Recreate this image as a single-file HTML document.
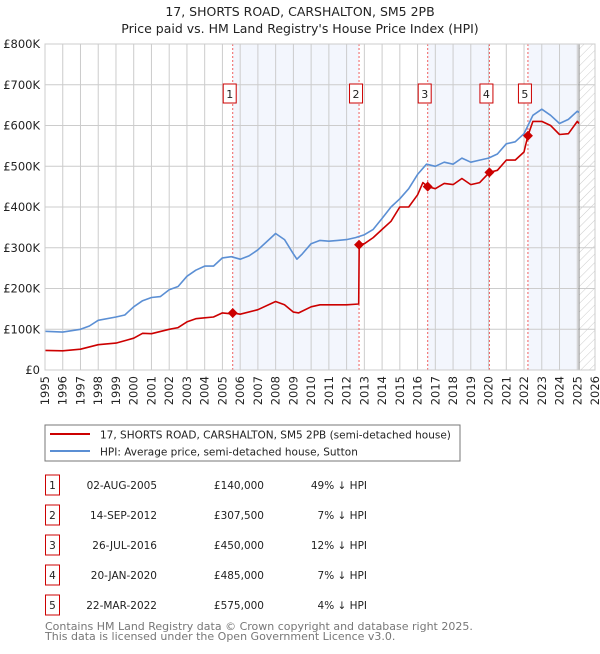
<!DOCTYPE html>
<html><head><meta charset="utf-8"><style>
body{margin:0;background:#fff;font-family:"DejaVu Sans","Liberation Sans",sans-serif;}
svg text{font-family:"DejaVu Sans","Liberation Sans",sans-serif;}
</style></head><body>
<svg id="c" width="600" height="650" xmlns="http://www.w3.org/2000/svg">
<defs><pattern id="hatch" patternUnits="userSpaceOnUse" width="6" height="6" patternTransform="rotate(45)"><line x1="0" y1="0" x2="0" y2="6" stroke="#ccc" stroke-width="1"/></pattern></defs>
<text x="300" y="16" text-anchor="middle" font-size="12.5" fill="#222">17, SHORTS ROAD, CARSHALTON, SM5 2PB</text>
<text x="300" y="33" text-anchor="middle" font-size="12.5" fill="#222">Price paid vs. HM Land Registry's House Price Index (HPI)</text>
<g id="plot"></g>
<rect x="45" y="425" width="415" height="36" fill="#fff" stroke="#777"/>
<line x1="50" y1="434" x2="90" y2="434" stroke="#cc0000" stroke-width="2"/>
<text x="100" y="438.5" font-size="10.5" fill="#222">17, SHORTS ROAD, CARSHALTON, SM5 2PB (semi-detached house)</text>
<line x1="50" y1="451" x2="90" y2="451" stroke="#5b8fd4" stroke-width="2"/>
<text x="100" y="455.5" font-size="10.5" fill="#222">HPI: Average price, semi-detached house, Sutton</text>
<g id="table"></g>
<text x="45" y="630" font-size="11" fill="#777">Contains HM Land Registry data © Crown copyright and database right 2025.</text>
<text x="45" y="640" font-size="11" fill="#777">This data is licensed under the Open Government Licence v3.0.</text>
</svg>
<script>
const hpiYears=[1995,1996,1997,1997.5,1998,1999,1999.5,2000,2000.5,2001,2001.5,2002,2002.5,2003,2003.5,2004,2004.5,2005,2005.5,2006,2006.5,2007,2007.5,2008,2008.5,2009,2009.2,2009.5,2010,2010.5,2011,2011.5,2012,2012.5,2013,2013.5,2014,2014.5,2015,2015.5,2016,2016.5,2017,2017.5,2018,2018.5,2019,2019.5,2020,2020.5,2021,2021.5,2022,2022.5,2023,2023.5,2024,2024.5,2025,2025.1];
const hpiValues=[95,93,100,108,122,130,135,155,170,178,180,197,205,230,245,255,255,275,278,272,280,295,315,335,320,285,272,285,310,318,316,318,320,325,332,345,372,400,420,445,480,505,500,510,505,520,510,515,520,530,555,560,580,625,640,625,605,615,635,632];
const redYears=[1995,1996,1997,1998,1999,2000,2000.5,2001,2002,2002.5,2003,2003.5,2004,2004.5,2005,2005.5,2005.58,2006,2007,2008,2008.5,2009,2009.3,2010,2010.5,2011,2012,2012.68,2012.71,2013,2013.5,2014,2014.5,2015,2015.5,2016,2016.3,2016.57,2017,2017.5,2018,2018.5,2019,2019.5,2020.05,2020.5,2021,2021.5,2022,2022.22,2022.5,2023,2023.5,2024,2024.5,2025,2025.1];
const redValues=[48,47,51,62,66,78,90,89,100,104,118,126,128,130,140,138,140,137,148,168,160,142,140,155,160,160,160,162,307.5,310,325,345,365,400,400,430,460,450,445,458,455,470,455,460,485,490,515,515,535,575,610,610,600,578,580,610,605];
const saleYears=[2005.58,2012.7,2016.57,2020.05,2022.22];
const saleValues=[140,307.5,450,485,575];
const saleLabels=["1","2","3","4","5"];
const saleDates=["02-AUG-2005","14-SEP-2012","26-JUL-2016","20-JAN-2020","22-MAR-2022"];
const salePrices=["£140,000","£307,500","£450,000","£485,000","£575,000"];
const salePct=["49% ↓ HPI","7% ↓ HPI","12% ↓ HPI","7% ↓ HPI","4% ↓ HPI"];
const yTicks=[0,100,200,300,400,500,600,700,800];
const yTickLabels=["£0","£100K","£200K","£300K","£400K","£500K","£600K","£700K","£800K"];
const xTicks=[1995,1996,1997,1998,1999,2000,2001,2002,2003,2004,2005,2006,2007,2008,2009,2010,2011,2012,2013,2014,2015,2016,2017,2018,2019,2020,2021,2022,2023,2024,2025,2026];

const NS="http://www.w3.org/2000/svg";
const L=45,R=595,T=44,B=370;
const X=y=>L+(y-1995)*(R-L)/31;
const Y=v=>B-v*(B-T)/800;
const g=document.getElementById('plot');
function mk(tag,attrs,parent){const e=document.createElementNS(NS,tag);for(const k in attrs)e.setAttribute(k,attrs[k]);(parent||g).appendChild(e);return e;}
const ends=[...saleYears.slice(1),2025.05];
for(let i=0;i<saleYears.length;i+=2){
  const r=mk('rect',{x:X(saleYears[i]),y:T,width:X(ends[i])-X(saleYears[i]),height:B-T,fill:'#f3f6fd'});
  
  
}
const h=mk('rect',{x:X(2025.1),y:T,width:R-X(2025.1),height:B-T,fill:'url(#hatch)'});


yTicks.forEach((v,i)=>{
  const l=mk('line',{x1:L,x2:R,y1:Y(v),y2:Y(v),stroke:'#ccc','stroke-width':1});
  
  
  const t=mk('text',{x:40,y:Y(v)+4,'text-anchor':'end','font-size':11.5,fill:'#222'});
  t.textContent=yTickLabels[i];
  
  
});
xTicks.forEach(y=>{
  const l=mk('line',{x1:X(y),x2:X(y),y1:T,y2:B,stroke:'#ccc','stroke-width':1});
  
  
  const t=mk('text',{x:0,y:0,'text-anchor':'end','font-size':11.5,fill:'#222',transform:`translate(${X(y)+4},${B+6}) rotate(-90)`});
  t.textContent=y;
  
  
});
const vl=mk('line',{x1:X(2025.1),x2:X(2025.1),y1:T,y2:B,stroke:'#888','stroke-width':1});


saleYears.forEach((s,i)=>{
  const l=mk('line',{x1:X(s),x2:X(s),y1:T,y2:B,stroke:'#f06060','stroke-width':1,'stroke-dasharray':'2,2'});
  
  
  const b=mk('rect',{x:X(s)-9.5,y:84,width:13,height:19,fill:'#fff',stroke:'#cc0000'});
  
  
  const t=mk('text',{x:X(s)-3,y:98,'text-anchor':'middle','font-size':11,fill:'#222'});
  t.textContent=saleLabels[i];
  
  
});
function path(xs,vs,color,name){
  const d=xs.map((x,i)=>(i?'L':'M')+X(x).toFixed(1)+','+Y(vs[i]).toFixed(1)).join('');
  const p=mk('path',{d,fill:'none',stroke:color,'stroke-width':1.6,'stroke-linejoin':'round'});
  
  
}
path(hpiYears,hpiValues,'#5b8fd4','hpi-line');
path(redYears,redValues,'#cc0000','price-paid-line');
saleYears.forEach((s,i)=>{
  const cx=X(s),cy=Y(saleValues[i]);
  const p=mk('path',{d:`M${cx},${cy-5}L${cx+5},${cy}L${cx},${cy+5}L${cx-5},${cy}Z`,fill:'#cc0000'});
  
  
});
const fr=mk('rect',{x:L,y:T,width:R-L,height:B-T,fill:'none',stroke:'#ccc'});


const tg=document.getElementById('table');
saleLabels.forEach((lab,i)=>{
  const cy=485+i*30;
  const b=mk('rect',{x:45.5,y:cy-10,width:14,height:20,fill:'#fff',stroke:'#cc0000'},tg);
  
  
  const cols=[[52.5,lab,'middle'],[157,saleDates[i],'end'],[264,salePrices[i],'end'],[367,salePct[i],'end']];
  cols.forEach(c=>{
    const t=mk('text',{x:c[0],y:cy+4,'text-anchor':c[2],'font-size':10.5,fill:'#222'},tg);
    t.textContent=c[1];
    
    
  });
});
</script>
</body></html>
